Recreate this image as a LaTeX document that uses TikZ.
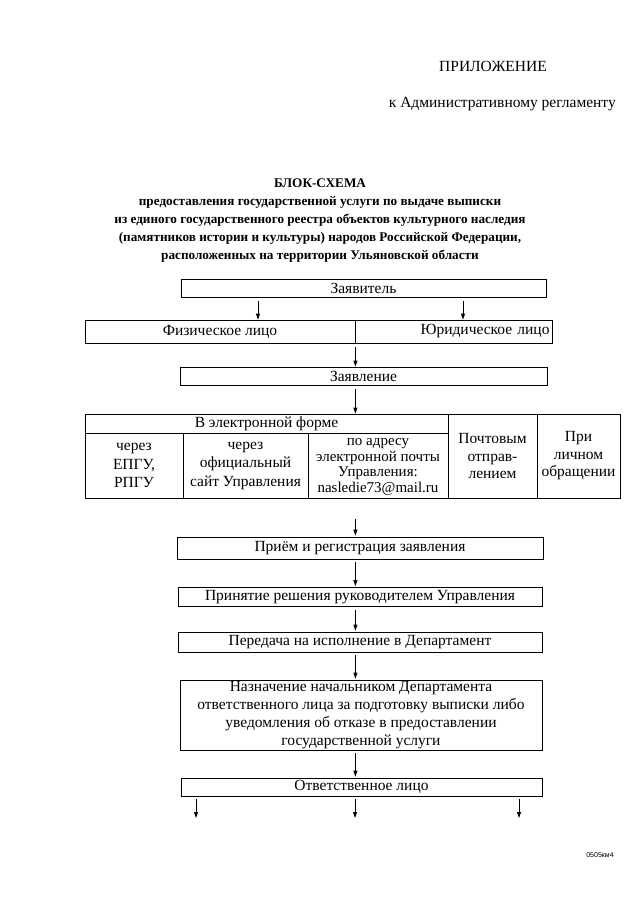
\documentclass[tikz,border=0pt]{standalone}
\usepackage{fontspec}
\setmainfont{Liberation Serif}
\newfontfamily\footfont{Liberation Sans}
\usetikzlibrary{arrows.meta,calc}
\newcommand{\bodyfont}{\fontsize{15.5}{18}\selectfont}
\begin{document}
\begin{tikzpicture}[x=1pt,y=-1pt,
  box/.style={draw, line width=0.8pt, inner sep=0pt, font=\bodyfont, align=center},
  arr/.style={-{Triangle[length=6pt,width=4pt]}, line width=0.8pt},
  txt/.style={inner sep=0pt, font=\bodyfont, align=center}]
\useasboundingbox (0,0) rectangle (640,905);
% header
\node[txt, anchor=base] (app) at (493,71) {ПРИЛОЖЕНИЕ};
\node[txt, anchor=base east] (reg) at (616,107) {к Административному регламенту};
\node[txt, font=\bfseries\fontsize{13.2}{17.8}\selectfont, anchor=north] (title) at (320,179)
  {БЛОК-СХЕМА\\
   предоставления государственной услуги по выдаче выписки\\
   из единого государственного реестра объектов культурного наследия\\
   (памятников истории и культуры) народов Российской Федерации,\\
   расположенных на территории Ульяновской области};
% boxes
\node[box, minimum width=365, minimum height=18] (zayav) at (363.5,288) {Заявитель};
\node[box, minimum width=270, minimum height=23] (fiz) at (220,331.5) {Физическое лицо};
\node[box, minimum width=197, minimum height=23, text width=192pt, align=right] (yur) at (453.5,331.5) {Юридическое лицо};
\node[box, minimum width=367, minimum height=18] (zayavl) at (363.5,376) {Заявление};
% table
\node[box, minimum width=363, minimum height=19] (el) at (266.5,423.5) {В электронной форме};
\node[box, minimum width=98, minimum height=65, font=\fontsize{15.5}{18.5}\selectfont] (c1) at (134,465.5) {через\\ ЕПГУ,\\ РПГУ};
\node[box, minimum width=125, minimum height=65, font=\fontsize{15.5}{18.5}\selectfont] (c2) at (245.5,465.5) {через\\ официальный\\ сайт Управления};
\node[box, minimum width=140, minimum height=65,
  label={[txt, font=\fontsize{15}{15.6}\selectfont, yshift=-1.5pt]center:{по адресу\\ электронной почты\\ Управления:\\ nasledie73@mail.ru}}] (c3) at (378,465.5) {};
\node[box, minimum width=89, minimum height=84, font=\fontsize{15.5}{17.5}\selectfont] (c4) at (492.5,456) {Почтовым\\ отправ-\\ лением};
\node[box, minimum width=83, minimum height=84, font=\fontsize{15.5}{17.5}\selectfont] (c5) at (578.5,456) {При\\ личном\\ обращении};
% process
\node[box, minimum width=366, minimum height=22] (priem) at (360,548) {Приём и регистрация заявления};
\node[box, minimum width=364, minimum height=19] (prin) at (360,597) {Принятие решения руководителем Управления};
\node[box, minimum width=364, minimum height=20] (per) at (360,642) {Передача на исполнение в Департамент};
\node[box, minimum width=362, minimum height=70] (nazn) at (361,715) {Назначение начальником Департамента\\ ответственного лица за подготовку выписки либо\\ уведомления об отказе в предоставлении\\ государственной услуги};
\node[box, minimum width=361, minimum height=18] (otv) at (361.5,787) {Ответственное лицо};
% free ends
\coordinate (e1) at (196,818);
\coordinate (e2) at (355,818);
\coordinate (e3) at (519,818);
% arrows
\draw[arr, shorten <=4pt] ([xshift=-105.5pt]zayav.south) -- ([xshift=-105.5pt]zayav.south |- fiz.north);
\draw[arr, shorten <=4pt] ([xshift=99.5pt]zayav.south) -- ([xshift=99.5pt]zayav.south |- yur.north);
\draw[arr, shorten <=4pt] (fiz.south east) -- (fiz.south east |- zayavl.north);
\draw[arr, shorten <=4pt] (zayavl.south -| fiz.east) -- (fiz.east |- el.north);
\draw[arr, shorten <=21pt, shorten >=1pt] (c3.south -| fiz.east) -- (fiz.east |- priem.north);
\draw[arr, shorten <=3pt, shorten >=1pt] (priem.south -| fiz.east) -- (fiz.east |- prin.north);
\draw[arr, shorten <=3pt, shorten >=1pt] (prin.south -| fiz.east) -- (fiz.east |- per.north);
\draw[arr, shorten <=3pt, shorten >=1pt] (per.south -| fiz.east) -- (fiz.east |- nazn.north);
\draw[arr, shorten <=3pt, shorten >=1pt] (nazn.south -| fiz.east) -- (fiz.east |- otv.north);
\draw[arr, shorten <=3pt] (otv.south -| e1) -- (e1);
\draw[arr, shorten <=3pt] (otv.south -| e2) -- (e2);
\draw[arr, shorten <=3pt] (otv.south -| e3) -- (e3);
% footer
\node[inner sep=0pt, font=\footfont\fontsize{7}{8}\selectfont] (code) at (600,855) {0505км4};
\end{tikzpicture}
\end{document}
